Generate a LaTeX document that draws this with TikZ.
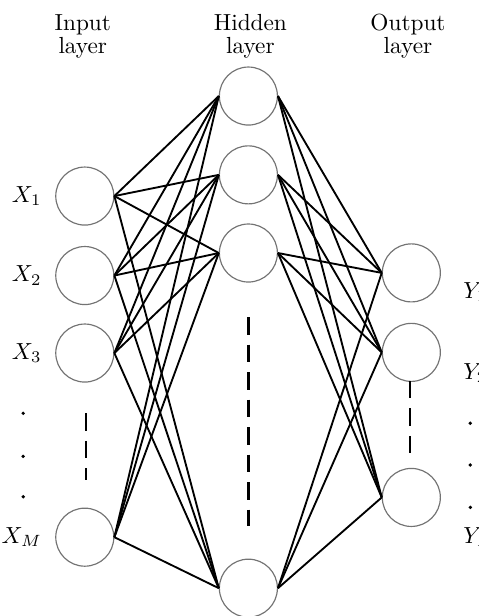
\documentclass[tikz,border=0pt]{standalone}
\usetikzlibrary{positioning}
\tikzset{
  neuron/.style={circle,draw=black!55,line width=0.5pt,minimum size=0.876cm,inner sep=0pt},
  layertitle/.style={align=center,font={\fontsize{10}{10}\selectfont}},
  skipdash/.style={line width=1.1pt,dash pattern=on 7.5pt off 4.3pt},
  wire/.style={line width=0.8pt}
}
\begin{document}
\begin{tikzpicture}
      \useasboundingbox (0,0) rectangle (7.22,-9.30);

      \node[layertitle] (TitleIn) at (1.25,-0.55){Input\\layer};
      \node[layertitle] (TitleHid) at (3.78,-0.55){Hidden\\layer};
      \node[layertitle] (TitleOut) at (6.16,-0.55){Output\\layer};

      \node[neuron] (X1) at (1.28,-2.96){};
      \node[neuron] (X2) at (1.28,-4.16){};
      \node[neuron] (X3) at (1.28,-5.33){};
      \node[neuron] (XM) at (1.28,-8.11){};

      \node[neuron] (H1) at (3.75,-1.45){};
      \node[neuron] (H2) at (3.75,-2.64){};
      \node[neuron] (H3) at (3.75,-3.82){};
      \node[neuron] (HN) at (3.75,-8.88){};

      \node[neuron] (Y1) at (6.21,-4.12){};
      \node[neuron] (Y2) at (6.21,-5.32){};
      \node[neuron] (YL) at (6.21,-7.51){};

      \node[left=0.08cm of X1] (LabX1){$X_1$};
      \node[left=0.08cm of X2] (LabX2){$X_2$};
      \node[left=0.08cm of X3] (LabX3){$X_3$};
      \node[left=0.08cm of XM] (LabXM){$X_M$};

      \node[anchor=west] (LabY1) at (6.87,-4.41){$Y_1$};
      \node[anchor=west] (LabY2) at (6.87,-5.63){$Y_2$};
      \node[anchor=west] (LabYL) at (6.87,-8.11){$Y_L$};

      % dots and gaps
      \fill (0.35,-6.24) circle (0.8pt) (0.35,-6.89) circle (0.8pt) (0.35,-7.50) circle (0.8pt);
      \fill (7.10,-6.39) circle (0.8pt) (7.10,-7.02) circle (0.8pt) (7.10,-7.66) circle (0.8pt);
      \draw[skipdash] (1.30,-6.24) -- (1.30,-7.25);
      \draw[skipdash] (3.75,-4.79) -- (3.75,-7.94);
      \draw[skipdash] (6.19,-5.75) -- (6.19,-6.90);

      \draw[wire] (X1.east) edge (H1.west) edge (H2.west) edge (H3.west) edge (HN.west);
      \draw[wire] (X2.east) edge (H1.west) edge (H2.west) edge (H3.west) edge (HN.west);
      \draw[wire] (X3.east) edge (H1.west) edge (H2.west) edge (H3.west) edge (HN.west);
      \draw[wire] (XM.east) edge (H1.west) edge (H2.west) edge (H3.west) edge (HN.west);
      \draw[wire] (H1.east) edge (Y1.west) edge (Y2.west) edge (YL.west);
      \draw[wire] (H2.east) edge (Y1.west) edge (Y2.west) edge (YL.west);
      \draw[wire] (H3.east) edge (Y1.west) edge (Y2.west) edge (YL.west);
      \draw[wire] (HN.east) edge (Y1.west) edge (Y2.west) edge (YL.west);
    \end{tikzpicture}
\end{document}
